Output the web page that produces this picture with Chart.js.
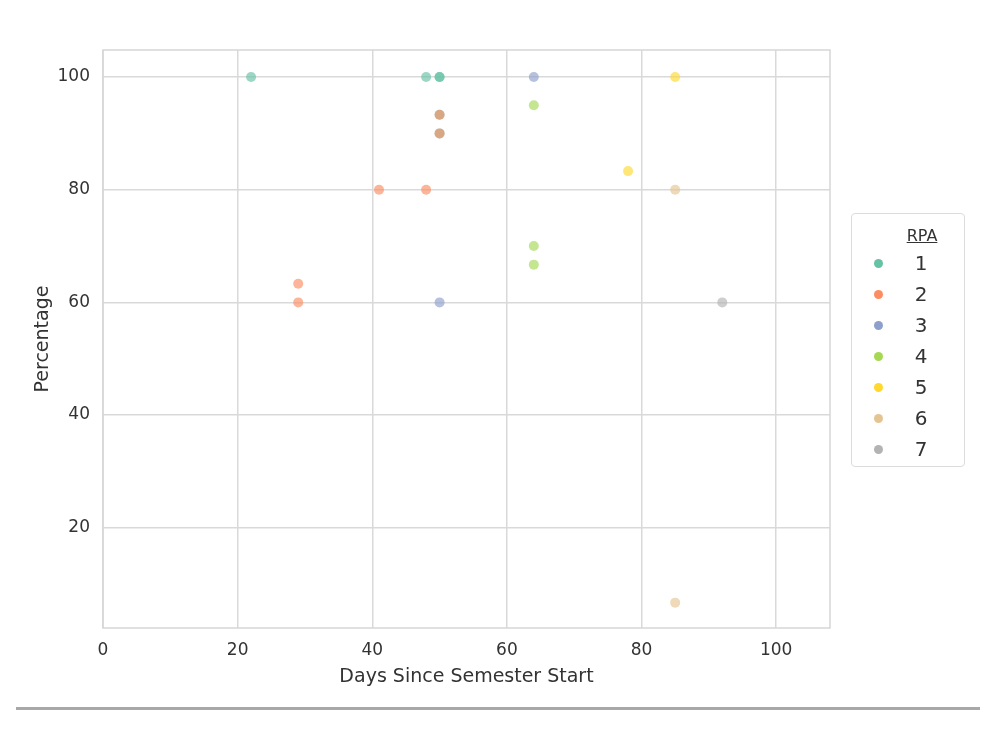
<!DOCTYPE html>
<html>
<head>
<meta charset="utf-8">
<script src="https://cdn.jsdelivr.net/npm/chart.js@4.4.1/dist/chart.umd.min.js"></script>
<style>
  body { margin: 0; background: #fff; font-family: "DejaVu Sans", sans-serif; }
  #wrap { position: relative; width: 1000px; height: 750px; }
  #legend {
    position: absolute; left: 851px; top: 213px; width: 112px; height: 252px;
    border: 1px solid #dcdcdc; border-radius: 4px; background: #fff; color: #333;
  }
  #legend .title { position: absolute; left: 0; width: 140px; top: 12px; text-align: center; font-size: 16px; text-decoration: underline; }
  #legend .item { position: absolute; left: 0; width: 112px; height: 22px; }
  #legend .dot { position: absolute; left: 22px; top: 7px; width: 9px; height: 9px; border-radius: 50%; }
  #legend .lbl { position: absolute; left: 58px; width: 22px; text-align: center; font-size: 20px; line-height: 22px; }
  #rule { position: absolute; left: 16px; top: 707px; width: 964px; height: 3px; background: #a8a8a8; }
</style>
</head>
<body>
<div id="wrap">
  <canvas id="chart" width="1000" height="750"></canvas>
  <div id="legend"></div>
  <div id="rule"></div>
</div>
<script>
const rpaLabels = ["1", "2", "3", "4", "5", "6", "7"];
const rpaColors = ["#66c2a5", "#fc8d62", "#8da0cb", "#a6d854", "#ffd92f", "#e5c494", "#b3b3b3"];

// [days, percentage] per RPA
const rpa1 = [[22, 100], [48, 100], [50, 100], [50, 100], [50, 93.3], [50, 90]];
const rpa2 = [[29, 63.3], [29, 60], [41, 80], [48, 80], [50, 93.3], [50, 90]];
const rpa3 = [[64, 100], [50, 60]];
const rpa4 = [[64, 95], [64, 70], [64, 66.7]];
const rpa5 = [[85, 100], [78, 83.3]];
const rpa6 = [[85, 80], [85, 6.7]];
const rpa7 = [[92, 60]];
const rpaPoints = [rpa1, rpa2, rpa3, rpa4, rpa5, rpa6, rpa7];

const xTicks = [0, 20, 40, 60, 80, 100];
const yTicks = [20, 40, 60, 80, 100];

function alpha(hex, a) {
    const n = parseInt(hex.slice(1), 16);
    return `rgba(${n >> 16},${(n >> 8) & 255},${n & 255},${a})`;
}

const frame = {
    id: "frame",
    afterDraw(chart) {
        const { ctx, chartArea: a } = chart;
        ctx.save();
        ctx.strokeStyle = "#d6d6d6";
        ctx.lineWidth = 1.5;
        ctx.strokeRect(a.left, a.top, a.right - a.left, a.bottom - a.top);
        ctx.restore();
    }
};

const tickFont = { family: "'DejaVu Sans', sans-serif", size: 17 };
const titleFont = { family: "'DejaVu Sans', sans-serif", size: 19 };

new Chart(document.getElementById("chart"), {
    type: "scatter",
    data: {
        datasets: rpaPoints.map((pts, i) => ({
            label: rpaLabels[i],
            data: pts.map(p => ({ x: p[0], y: p[1] })),
            backgroundColor: alpha(rpaColors[i], 0.65),
            borderWidth: 0,
            pointRadius: 5,
            pointHoverRadius: 5,
            order: rpaPoints.length - i   // later groups drawn on top
        }))
    },
    options: {
        responsive: false,
        animation: false,
        layout: { padding: { left: 28, top: 50, right: 170, bottom: 60 } },
        plugins: { legend: { display: false }, tooltip: { enabled: false } },
        scales: {
            x: {
                type: "linear",
                min: 0,
                max: 108,
                afterFit: s => { s.height = 62; },
                afterBuildTicks: s => { s.ticks = xTicks.map(v => ({ value: v })); },
                grid: { color: "#d9d9d9", lineWidth: 1.5, drawTicks: false },
                border: { display: false },
                ticks: { color: "#333", font: tickFont, padding: 12 },
                title: { display: true, text: "Days Since Semester Start", color: "#333", font: titleFont, padding: { top: 4, bottom: 2 } }
            },
            y: {
                type: "linear",
                min: 2.2,
                max: 104.8,
                afterFit: s => { s.width = 75; },
                afterBuildTicks: s => { s.ticks = yTicks.map(v => ({ value: v })); },
                grid: { color: "#d9d9d9", lineWidth: 1.5, drawTicks: false },
                border: { display: false },
                ticks: { color: "#333", font: tickFont, padding: 13 },
                title: { display: true, text: "Percentage", color: "#333", font: titleFont, padding: { bottom: 6 } }
            }
        }
    },
    plugins: [frame]
});

// legend
const legend = document.getElementById("legend");
legend.innerHTML = '<div class="title">RPA</div>';
rpaLabels.forEach((lbl, i) => {
    const item = document.createElement("div");
    item.className = "item";
    item.style.top = (38 + i * 31) + "px";
    item.innerHTML = `<span class="dot" style="background:${rpaColors[i]}"></span><span class="lbl">${lbl}</span>`;
    legend.appendChild(item);
});
</script>
</body>
</html>
